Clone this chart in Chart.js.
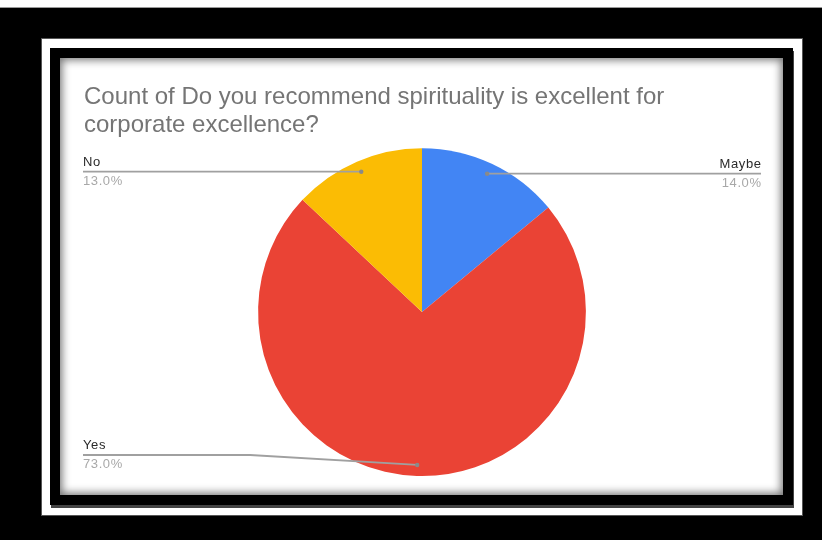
<!DOCTYPE html>
<html lang="en">
<head>
<meta charset="UTF-8">
<title>Spirituality survey</title>
<script src="https://cdn.jsdelivr.net/npm/chart.js"></script>
<style>
    html, body {
        margin: 0;
        padding: 0;
        width: 822px;
        height: 540px;
        background: #fff;
        overflow: hidden;
    }
    #backdrop {
        position: absolute;
        left: 0;
        top: 7px;
        width: 822px;
        height: 533px;
        background: #000;
        border-top: 1px solid #999;
        box-sizing: border-box;
    }
    #sheet {
        position: absolute;
        left: 41px;
        top: 38px;
        width: 762px;
        height: 478px;
        background: #fff;
        border: 1px solid #555;
        box-sizing: border-box;
    }
    #card {
        position: absolute;
        left: 50px;
        top: 48px;
        width: 743px;
        height: 457px;
        background: #000;
        box-shadow: 1px 3px 0 #444;
    }
    #inner {
        position: absolute;
        left: 60px;
        top: 58px;
        width: 723px;
        height: 437px;
        background: #fff;
        box-shadow: inset 0 0 9px 2px rgba(0, 0, 0, 0.55);
    }
    canvas {
        position: absolute;
        left: 0;
        top: 0;
    }
</style>
</head>
<body>

<div id="backdrop"></div>
<div id="sheet"></div>
<div id="card"></div>
<div id="inner">
    <canvas id="pieChart" width="723" height="437"></canvas>
</div>

<script>
// answers, counted in percent, clockwise from 12 o'clock
var answers = ['Maybe', 'Yes', 'No'];
var shares = [14.0, 73.0, 13.0];
var sliceColors = ['#4285F4', '#EA4335', '#FBBC04'];
var titleLines = ['Count of Do you recommend spirituality is excellent for', 'corporate excellence?'];

// gray leader line from each slice out to its label at the side of the plot
var leaderLabels = {
    id: 'leaderLabels',
    afterDatasetsDraw: function (chart) {
        var ctx = chart.ctx;
        var area = chart.chartArea;
        var meta = chart.getDatasetMeta(0);

        meta.data.forEach(function (arc, i) {
            var mid = (arc.startAngle + arc.endAngle) / 2;
            var r = arc.outerRadius * 0.933;
            var dotX = arc.x + Math.cos(mid) * r;
            var dotY = arc.y + Math.sin(mid) * r;
            var onLeft = dotX < arc.x;
            var edgeX = onLeft ? area.left - 1 : area.right + 1;
            var lineY = Math.min(dotY, area.bottom - 21);

            ctx.save();
            ctx.strokeStyle = '#a0a0a0';
            ctx.lineWidth = 1.8;
            ctx.beginPath();
            ctx.moveTo(edgeX, lineY);
            if (lineY !== dotY) {
                var bendX = edgeX + (dotX - edgeX) * 0.5;
                ctx.lineTo(bendX, lineY);
            }
            ctx.lineTo(dotX, dotY);
            ctx.stroke();

            ctx.fillStyle = '#8a8a8a';
            ctx.beginPath();
            ctx.arc(dotX, dotY, 2.2, 0, Math.PI * 2);
            ctx.fill();

            // right-aligned text gets a trailing gap from letterSpacing, so nudge it back
            var textX = onLeft ? edgeX : edgeX + 0.6;
            ctx.textAlign = onLeft ? 'left' : 'right';
            ctx.textBaseline = 'alphabetic';
            ctx.letterSpacing = '0.6px';
            ctx.font = '13px "Liberation Sans", Arial, sans-serif';
            ctx.fillStyle = '#2a2a2a';
            ctx.fillText(answers[i], textX, lineY - 6);
            ctx.fillStyle = '#a8a8a8';
            ctx.fillText(shares[i].toFixed(1) + '%', textX, lineY + 13);
            ctx.restore();
        });
    }
};

var ctxPie = document.getElementById('pieChart').getContext('2d');
var pieChart = new Chart(ctxPie, {
    type: 'pie',
    data: {
        labels: answers,
        datasets: [{
            data: shares,
            backgroundColor: sliceColors,
            borderWidth: 0
        }]
    },
    options: {
        responsive: false,
        animation: false,
        devicePixelRatio: 1,
        layout: {
            padding: { top: 0, bottom: 19, left: 24, right: 23 }
        },
        plugins: {
            legend: { display: false },
            tooltip: { enabled: false },
            title: {
                display: true,
                text: titleLines,
                align: 'start',
                color: '#757575',
                font: { family: '"Liberation Sans", Arial, sans-serif', size: 24, weight: 'normal', lineHeight: 1.17 },
                padding: { top: 25, bottom: 9 }
            }
        }
    },
    plugins: [leaderLabels]
});
</script>

</body>
</html>
